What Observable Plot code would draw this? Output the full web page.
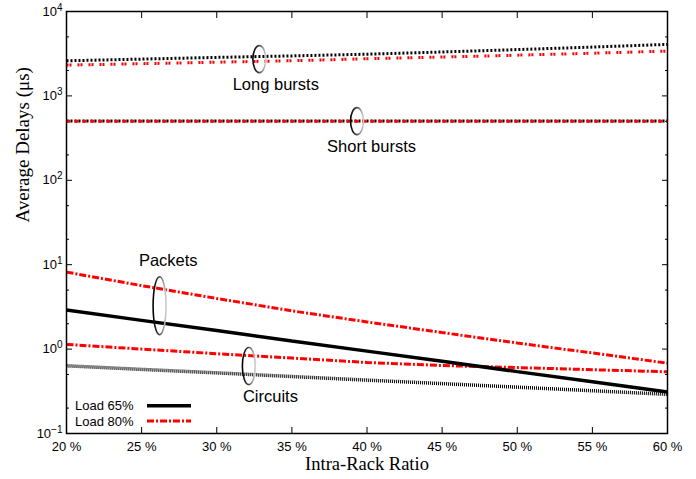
<!DOCTYPE html>
<html><head><meta charset="utf-8">
<script src="https://cdn.jsdelivr.net/npm/d3@7"></script>
<script src="https://cdn.jsdelivr.net/npm/@observablehq/plot@0.6"></script>
<style>
body{margin:0;background:#fff;}
#chart{position:relative;width:696px;height:479px;}
#legend{position:absolute;left:66px;top:395px;}
</style></head><body><div id="chart"></div>
<script>
// Intra-rack ratio (%)
const ratios = [20, 25, 30, 35, 40, 45, 50, 55, 60];
// Average delays (µs)
const longBursts65  = [2606, 2729, 2858, 2978, 3119, 3312, 3537, 3788, 4076];
const longBursts80  = [2317, 2408, 2507, 2613, 2754, 2885, 3037, 3206, 3395];
const shortBursts65 = [505, 505, 505, 505, 505, 505, 505, 505, 505];
const shortBursts80 = [500, 500, 500, 500, 500, 500, 500, 500, 500];
const packets65     = [2.90, 2.19, 1.66, 1.25, 0.946, 0.717, 0.541, 0.410, 0.310];
const packets80     = [8.17, 5.65, 3.98, 2.84, 2.10, 1.57, 1.18, 0.90, 0.68];
const circuits65    = [0.634, 0.575, 0.523, 0.473, 0.429, 0.390, 0.354, 0.321, 0.291];
const circuits80    = [1.137, 1.0, 0.882, 0.782, 0.694, 0.639, 0.604, 0.570, 0.538];

const xTicks = [20, 25, 30, 35, 40, 45, 50, 55, 60];
const yMajor = [0.1, 1, 10, 100, 1000, 10000];
const yMinor = [0.2, 0.5, 2, 5, 20, 50, 200, 500, 2000, 5000];

// Annotations: label position and ellipse (centre ratio, value span)
const annLabels = ["Long bursts", "Short bursts", "Packets", "Circuits"];
const annLabelX = [33.93, 40.3, 26.77, 33.57];
const annLabelY = [1343, 249, 11.3, 0.272];
const annEllX   = [32.87, 39.37, 26.23, 32.17];
const annEllTop = [3890, 717, 7.1, 1.03];
const annEllBot = [1862, 343, 1.46, 0.374];

const legendLabels = ["Load 65%", "Load 80%"];

const toRows = arr => ratios.map((r, i) => ({ratio: r, value: arr[i]}));
const labels = annLabels.map((t, i) => ({text: t, x: annLabelX[i], y: annLabelY[i]}));

const sans = "Liberation Sans, Arial, sans-serif";
const serif = "Liberation Serif, Times New Roman, serif";
const red = "#ff0000";
const lineOpts = {x: "ratio", y: "value", strokeLinecap: "butt", strokeLinejoin: "miter"};

const plot = Plot.plot({
  width: 696, height: 479,
  marginLeft: 66, marginRight: 29, marginTop: 11, marginBottom: 46,
  style: {fontFamily: sans, fontSize: "13px", color: "black", background: "white"},
  x: {domain: [20, 60], label: null},
  y: {type: "log", domain: [0.1, 10000], label: null},
  marks: [
    Plot.axisX(xTicks, {anchor: "bottom", tickSize: -6, tickPadding: 14, tickFormat: d => d + " %", label: null, fontSize: 13}),
    Plot.axisX(xTicks, {anchor: "top", tickSize: -6, tickFormat: () => "", label: null}),
    Plot.axisY(yMajor, {anchor: "left", tickSize: -6, tickPadding: 10, tickFormat: d => "10^" + Math.round(Math.log10(d)), label: null, fontSize: 13}),
    Plot.axisY(yMajor, {anchor: "right", tickSize: -6, tickFormat: () => "", label: null}),
    Plot.axisY(yMinor, {anchor: "left", tickSize: -3, tickFormat: () => "", label: null}),
    Plot.axisY(yMinor, {anchor: "right", tickSize: -3, tickFormat: () => "", label: null}),
    Plot.line(toRows(longBursts65), {...lineOpts, stroke: "black", strokeWidth: 3, strokeDasharray: "2,2"}),
    Plot.line(toRows(longBursts80), {...lineOpts, stroke: red, strokeWidth: 3, strokeDasharray: "2,1,2,6"}),
    Plot.line(toRows(shortBursts65), {...lineOpts, stroke: "black", strokeWidth: 3, strokeDasharray: "2,2"}),
    Plot.line(toRows(shortBursts80), {...lineOpts, stroke: red, strokeWidth: 3, strokeDasharray: "4,4"}),
    Plot.line(toRows(circuits65), {...lineOpts, stroke: "black", strokeWidth: 3.5, strokeDasharray: "1,1"}),
    Plot.line(toRows(circuits80), {...lineOpts, stroke: red, strokeWidth: 3, strokeDasharray: "7,2,2,2"}),
    Plot.line(toRows(packets65), {...lineOpts, stroke: "black", strokeWidth: 3.5}),
    Plot.line(toRows(packets80), {...lineOpts, stroke: red, strokeWidth: 3, strokeDasharray: "7,2,2,2"}),
    Plot.text(labels, {x: "x", y: "y", text: "text", fontSize: 16.5, fill: "black"}),
    Plot.text(["Intra-Rack Ratio"], {frameAnchor: "bottom", dy: 36, text: d => d, fontFamily: serif, fontSize: 18.5}),
    Plot.text(["Average Delays (μs)"], {frameAnchor: "left", dx: -44, rotate: -90, text: d => d, fontFamily: serif, fontSize: 19}),
    Plot.frame({stroke: "black", strokeWidth: 1.5})
  ]
});

// superscript exponents on y tick labels
plot.querySelectorAll('g[aria-label="y-axis tick label"] text').forEach(t => {
  const s = t.textContent;
  if (s.startsWith("10^")) {
    const exp = s.slice(3).replace("-", "\u2212");
    t.textContent = "10";
    const ts = document.createElementNS("http://www.w3.org/2000/svg", "tspan");
    ts.setAttribute("dy", "-0.5em");
    ts.setAttribute("font-size", "10px");
    ts.textContent = exp;
    t.appendChild(ts);
  }
});

// annotation ellipses through the plot's own scales
const xs = plot.scale("x"), ys = plot.scale("y");
const svg = d3.select(plot);
const defs = svg.append("defs");
const grad = defs.append("linearGradient").attr("id", "ellGrad").attr("x1", 0).attr("x2", 1).attr("y1", 0).attr("y2", 0);
grad.append("stop").attr("offset", 0).attr("stop-color", "#000");
grad.append("stop").attr("offset", 0.45).attr("stop-color", "#444");
grad.append("stop").attr("offset", 1).attr("stop-color", "#d0d0d0");
const eg = svg.append("g");
annEllX.forEach((cx, i) => {
  const yt = ys.apply(annEllTop[i]), yb = ys.apply(annEllBot[i]);
  eg.append("ellipse")
    .attr("cx", xs.apply(cx)).attr("cy", (yt + yb) / 2)
    .attr("rx", 6.5).attr("ry", Math.abs(yb - yt) / 2)
    .attr("fill", "none").attr("stroke", "url(#ellGrad)").attr("stroke-width", 1.6);
});

const chart = document.getElementById("chart");
chart.appendChild(plot);

// legend (inside plot frame, bottom-left)
const lg = d3.select(chart).append("svg").attr("id", "legend").attr("width", 140).attr("height", 35);
const lstyles = [{stroke: "black", dash: null, w: 3.5}, {stroke: red, dash: "7,2,2,2", w: 3}];
legendLabels.forEach((l, i) => {
  const cy = 10.7 + i * 15.3;
  lg.append("text").attr("x", 9).attr("y", cy).attr("dy", "0.35em")
    .attr("font-family", sans).attr("font-size", 13).text(l);
  lg.append("line").attr("x1", 81).attr("x2", 125).attr("y1", cy).attr("y2", cy)
    .attr("stroke", lstyles[i].stroke).attr("stroke-width", lstyles[i].w)
    .attr("stroke-dasharray", lstyles[i].dash);
});
</script></body></html>
